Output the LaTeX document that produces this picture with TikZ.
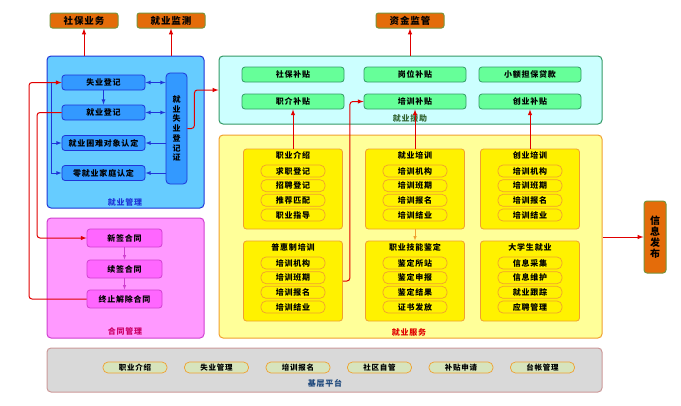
\documentclass[tikz,border=0pt]{standalone}
\usepackage{fontspec}
\setmainfont{Noto Sans CJK SC}[LetterSpace=10]
\usepackage{xcolor}
\usepackage{tikz}
\usetikzlibrary{calc}
\usetikzlibrary{positioning}

\definecolor{topfill}{HTML}{E46C0A}
\definecolor{topline}{HTML}{77933C}
\definecolor{bluefill}{HTML}{66CCFF}
\definecolor{blueline}{HTML}{1F35D8}
\definecolor{blueinner}{HTML}{3399FF}
\definecolor{pinkfill}{HTML}{FF99FF}
\definecolor{pinkline}{HTML}{D040D0}
\definecolor{pinkinner}{HTML}{FF66FF}
\definecolor{pinktext}{HTML}{CC0066}
\definecolor{cyanfill}{HTML}{CCFFFF}
\definecolor{greenline}{HTML}{339966}
\definecolor{greeninner}{HTML}{66FF99}
\definecolor{greentext}{HTML}{336633}
\definecolor{yellowfill}{HTML}{FFFF99}
\definecolor{orangeline}{HTML}{F0A030}
\definecolor{greyfill}{HTML}{D9D9D9}
\definecolor{greyline}{HTML}{CC9999}
\definecolor{pillfill}{HTML}{D7E4BD}
\definecolor{navytext}{HTML}{1F497D}
\definecolor{arrowred}{HTML}{E00000}

\begin{document}
\begin{tikzpicture}[x=1pt,y=-1pt,
    txt/.style={font=\bfseries\fontsize{8}{9}\selectfont,inner sep=0pt},
    topbox/.style={draw=topline,fill=topfill,line width=1pt,rounded corners=2.5pt,
      minimum width=68,minimum height=15,inner sep=0pt,font=\bfseries\fontsize{9.5}{10}\selectfont},
    panel/.style={rounded corners=4pt,line width=1pt,inner sep=0pt},
    bluebox/.style={txt,draw=blueline,fill=blueinner,line width=0.8pt,rounded corners=3pt,
      minimum width=83,minimum height=15},
    pinkbox/.style={txt,draw=pinkline,fill=pinkinner,line width=0.8pt,rounded corners=3pt,
      minimum width=75,minimum height=18},
    greenbox/.style={txt,draw=greenline,fill=greeninner,line width=0.8pt,rounded corners=3pt,
      minimum width=102,minimum height=15},
    svcbox/.style={draw=orangeline,fill=yellow,line width=0.8pt,rounded corners=3pt,
      minimum width=99,minimum height=80,inner sep=0pt},
    svcpill/.style={txt,draw=orangeline,fill=yellow,line width=0.7pt,rounded corners=5pt,
      minimum width=64,minimum height=12},
    basepill/.style={txt,draw=orangeline,fill=pillfill,line width=0.7pt,rounded corners=5pt,
      minimum width=64,minimum height=11,font=\bfseries\fontsize{7.5}{8}\selectfont},
    redline/.style={arrowred,line width=1pt,rounded corners=3pt},
    blueln/.style={blueline,line width=0.8pt}
  ]
  \useasboundingbox (0,0) rectangle (681,405);

  % top boxes
  \node[topbox] (sbyw) at (84,20.5) {社保业务};
  \node[topbox] (jyjc) at (171,20.5) {就业监测};
  \node[topbox] (zjjg) at (410,20.5) {资金监管};

  % the panels
  \node[panel,draw=blueline,fill=bluefill,minimum width=157,minimum height=152] (jygl) at (125.5,132) {};
  \node[panel,draw=pinkline,fill=pinkfill,minimum width=157,minimum height=120] (htgl) at (125.5,278) {};
  \node[panel,draw=greenline,fill=cyanfill,minimum width=383,minimum height=68] (jyyz) at (410.5,90) {};
  \node[panel,draw=orangeline,fill=yellowfill,minimum width=383,minimum height=203] (jyfw) at (410.5,236.5) {};
  \node[panel,draw=greyline,fill=greyfill,minimum width=555,minimum height=44] (jcpt) at (324.5,370) {};

  \node[txt,blueline] (jygl-t) at (125,202) {就业管理};
  \node[txt,pinktext] (htgl-t) at (125,331) {合同管理};
  \node[txt,greentext] (jyyz-t) at (410,118) {就业援助};
  \node[txt,arrowred] (jyfw-t) at (409,332) {就业服务};
  \node[txt,navytext] (jcpt-t) at (325,383) {基层平台};

  % employment management
  \node[bluebox] (sydj) at (103.5,82.5) {失业登记};
  \node[bluebox] (jydj) at (103.5,112.5) {就业登记};
  \node[bluebox] (kndx) at (103.5,143) {就业困难对象认定};
  \node[bluebox] (ljyt) at (103.5,173) {零就业家庭认定};
  \node[txt,draw=blueline,fill=blueinner,line width=0.8pt,rounded corners=4pt,
    minimum width=21,minimum height=111,align=center,
    font=\bfseries\fontsize{8}{9.7}\selectfont] (djz) at (176.5,128.5)
    {就\\业\\失\\业\\登\\记\\证};

  \draw[blueln,-latex] (sydj) -- (jydj);
  \draw[blueln,latex-latex] (sydj.east) -- (sydj.east -| djz.west);
  \draw[blueln,latex-latex] (jydj.east) -- (jydj.east -| djz.west);
  \draw[blueln,-latex] (kndx.east -| djz.west) -- (kndx.east);
  \draw[blueln,-latex] (ljyt.east -| djz.west) -- (ljyt.east);
  \coordinate (bl) at ($(sydj.west)+(-10,0)$);
  \draw[blueln,-latex] (bl) |- (kndx.west);
  \draw[blueln,-latex] (bl) |- (ljyt.west);

  % contracts
  \node[pinkbox] (xqht) at (124.5,238) {新签合同};
  \node[pinkbox] (xuht) at (124.5,269) {续签合同};
  \node[pinkbox] (zzht) at (124.5,299) {终止解除合同};
  \draw[pinkline,line width=0.6pt,-latex] (xqht) -- (xuht);
  \draw[pinkline,line width=0.6pt,-latex] (xuht) -- (zzht);

  % subsidies
  \foreach \nm/\cx/\cy/\t in {sbbt/293/74.5/社保补贴, gwbt/415/74.5/岗位补贴,
      xedk/530/74.5/小额担保贷款, zjbt/293/101.5/职介补贴,
      pxbt/415/101.5/培训补贴, cybt/530/101.5/创业补贴}
  {
    \node[greenbox] (\nm) at (\cx,\cy) {\t};
  }

  % services
  \foreach \nm/\cx/\cy/\ttl/\items in {
      zyjs/293/189/职业介绍/{求职登记,招聘登记,推荐匹配,职业指导},
      jypx/415/189/就业培训/{培训机构,培训班期,培训报名,培训结业},
      cypx/530/189/创业培训/{培训机构,培训班期,培训报名,培训结业},
      phzp/293/281/普惠制培训/{培训机构,培训班期,培训报名,培训结业},
      jnjd/415/281/职业技能鉴定/{鉴定所站,鉴定申报,鉴定结果,证书发放},
      dxsj/530/281/大学生就业/{信息采集,信息维护,就业跟踪,应聘管理}}
  {
    \node[svcbox] (\nm) at (\cx,\cy) {};
    \node[txt] (\nm-t) at (\cx,\cy-34) {\ttl};
    \foreach \it [count=\k] in \items
      \node[svcpill] (\nm-\k) at (\cx,{\cy-32.67+14.67*\k}) {\it};
  }
  \draw[orangeline,line width=0.6pt,-latex] (jypx) -- (jnjd);

  % base platform
  \foreach \t [count=\k] in {职业介绍,失业管理,培训报名,社区自管,补贴申请,台帐管理}
    \node[basepill] (jc-\k) at ({53.5+81.5*\k},367.5) {\t};

  % info release
  \node[draw=topline,fill=topfill,line width=1pt,rounded corners=3pt,
    minimum width=22,minimum height=72,inner sep=0pt,align=center,
    font=\bfseries\fontsize{10}{11}\selectfont] (xxfb) at (655,237) {信\\息\\发\\布};

  % red connectors
  \draw[redline,-latex] (sbyw.south |- jygl.north) -- (sbyw.south);
  \draw[redline,-latex] (jyjc.south |- jygl.north) -- (jyjc.south);
  \draw[redline,-latex] (zjjg.south |- jyyz.north) -- (zjjg.south);
  \draw[redline,-latex] (djz.east) -- ($(djz.east)+(7,0)$) |- (jyyz.west);
  \coordinate (la) at (29,0);
  \coordinate (lb) at (37,0);
  \draw[redline,-latex] (zzht.west) -- (zzht.west -| la) |- (sydj.west);
  \draw[redline,-latex] (jydj.west) -- (jydj.west -| lb) |- (xqht.west);
  \draw[redline,-latex] (zyjs.north) -- (zjbt.south);
  \draw[redline,-latex] (jypx.north) -- (pxbt.south);
  \draw[redline,-latex] (cypx.north) -- (cybt.south);
  \draw[redline,-latex] (phzp.east) -- ($(phzp.east)+(7,0)$) |- (pxbt.west);
  \draw[redline,-latex] (jyfw.east |- xxfb.west) -- (xxfb.west);

\end{tikzpicture}
\end{document}
